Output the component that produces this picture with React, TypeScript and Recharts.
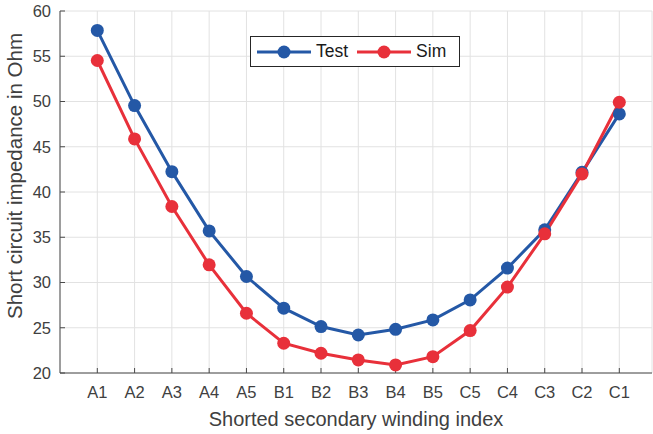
import React from 'react'
import { LineChart, Line, XAxis, YAxis, CartesianGrid, Legend, Label } from 'recharts'

const windings = ['A1', 'A2', 'A3', 'A4', 'A5', 'B1', 'B2', 'B3', 'B4', 'B5', 'C5', 'C4', 'C3', 'C2', 'C1']
const testOhm = [57.85, 49.55, 42.25, 35.7, 30.66, 27.16, 25.13, 24.2, 24.83, 25.87, 28.08, 31.59, 35.83, 42.17, 48.63]
const simOhm = [54.53, 45.87, 38.4, 31.95, 26.6, 23.29, 22.18, 21.44, 20.89, 21.8, 24.69, 29.49, 35.38, 42.0, 49.92]
const yTicks = [20, 25, 30, 35, 40, 45, 50, 55, 60]

const BLUE = '#2458a6'
const RED = '#e8303a'
const AXIS = '#4a4a4a'
const FONT = '"Liberation Sans", Arial, sans-serif'

const data = windings.map((name, i) => ({ name, test: testOhm[i], sim: simOhm[i] }))

const legendItems = [
  { label: 'Test', color: BLUE },
  { label: 'Sim', color: RED },
]

const LegendBox = () => (
  <div
    style={{
      display: 'flex',
      alignItems: 'center',
      height: 29,
      width: 208,
      border: '1px solid #262626',
      background: '#fff',
      fontFamily: FONT,
      fontSize: 17.5,
      color: '#1a1a1a',
      boxSizing: 'content-box',
    }}
  >
    {legendItems.map((it, i) => (
      <div key={it.label} style={{ display: 'flex', alignItems: 'center', marginLeft: i === 0 ? 6 : 9 }}>
        <svg width={54} height={16}>
          <line x1={0} y1={8} x2={54} y2={8} stroke={it.color} strokeWidth={3} />
          <circle cx={27} cy={8} r={6.5} fill={it.color} />
        </svg>
        <span style={{ marginLeft: 5 }}>{it.label}</span>
      </div>
    ))}
  </div>
)

const tickStyle = { fontSize: 16.5, fill: '#404040', fontFamily: FONT }

export default function App() {
  return (
    <div style={{ position: 'absolute', left: 0, top: 0, background: '#fff' }}>
      <LineChart width={653} height={434} data={data} margin={{ top: 11, right: 1, bottom: 0, left: 0 }}>
        <CartesianGrid stroke="#e2e2e2" strokeWidth={1} />
        <XAxis
          dataKey="name"
          scale="point"
          padding={{ left: 37.3, right: 32.7 }}
          height={61}
          stroke={AXIS}
          tickSize={-5}
          tickMargin={18}
          tick={tickStyle}
          interval={0}
        >
          <Label
            content={(p: any) => {
              const vb = p.viewBox || { x: 60, y: 373, width: 592 }
              return (
                <text x={vb.x + vb.width / 2} y={vb.y + 53} textAnchor="middle" fontSize={20} fill="#404040" fontFamily={FONT}>
                  Shorted secondary winding index
                </text>
              )
            }}
          />
        </XAxis>
        <XAxis
          xAxisId="top"
          orientation="top"
          dataKey="name"
          scale="point"
          padding={{ left: 37.3, right: 32.7 }}
          height={0}
          stroke={AXIS}
          tickSize={-5}
          tickFormatter={() => ''}
          interval={0}
        />
        <YAxis
          type="number"
          domain={[20, 60]}
          ticks={yTicks}
          width={60}
          stroke={AXIS}
          tickSize={-5}
          tickMargin={14}
          tick={tickStyle}
          interval={0}
        >
          <Label
            content={() => {
              const cx = 22
              const cy = 176
              return (
                <text x={cx} y={cy} transform={`rotate(-90, ${cx}, ${cy})`} textAnchor="middle" fontSize={20.5} fill="#404040" fontFamily={FONT}>
                  Short circuit impedance in Ohm
                </text>
              )
            }}
          />
        </YAxis>
        <YAxis
          yAxisId="right"
          orientation="right"
          type="number"
          domain={[20, 60]}
          ticks={yTicks}
          width={0}
          stroke={AXIS}
          tickSize={-5}
          tickFormatter={() => ''}
          interval={0}
        />
        <Legend
          layout="vertical"
          align="center"
          verticalAlign="middle"
          wrapperStyle={{ left: 250, top: 36, width: 'auto' }}
          content={() => <LegendBox />}
        />
        <Line
          type="linear"
          dataKey="test"
          name="Test"
          stroke={BLUE}
          strokeWidth={3}
          dot={{ r: 6.5, fill: BLUE, stroke: BLUE, strokeWidth: 0 }}
          activeDot={false}
          isAnimationActive={false}
        />
        <Line
          type="linear"
          dataKey="sim"
          name="Sim"
          stroke={RED}
          strokeWidth={3}
          dot={{ r: 6.5, fill: RED, stroke: RED, strokeWidth: 0 }}
          activeDot={false}
          isAnimationActive={false}
        />
      </LineChart>
    </div>
  )
}
